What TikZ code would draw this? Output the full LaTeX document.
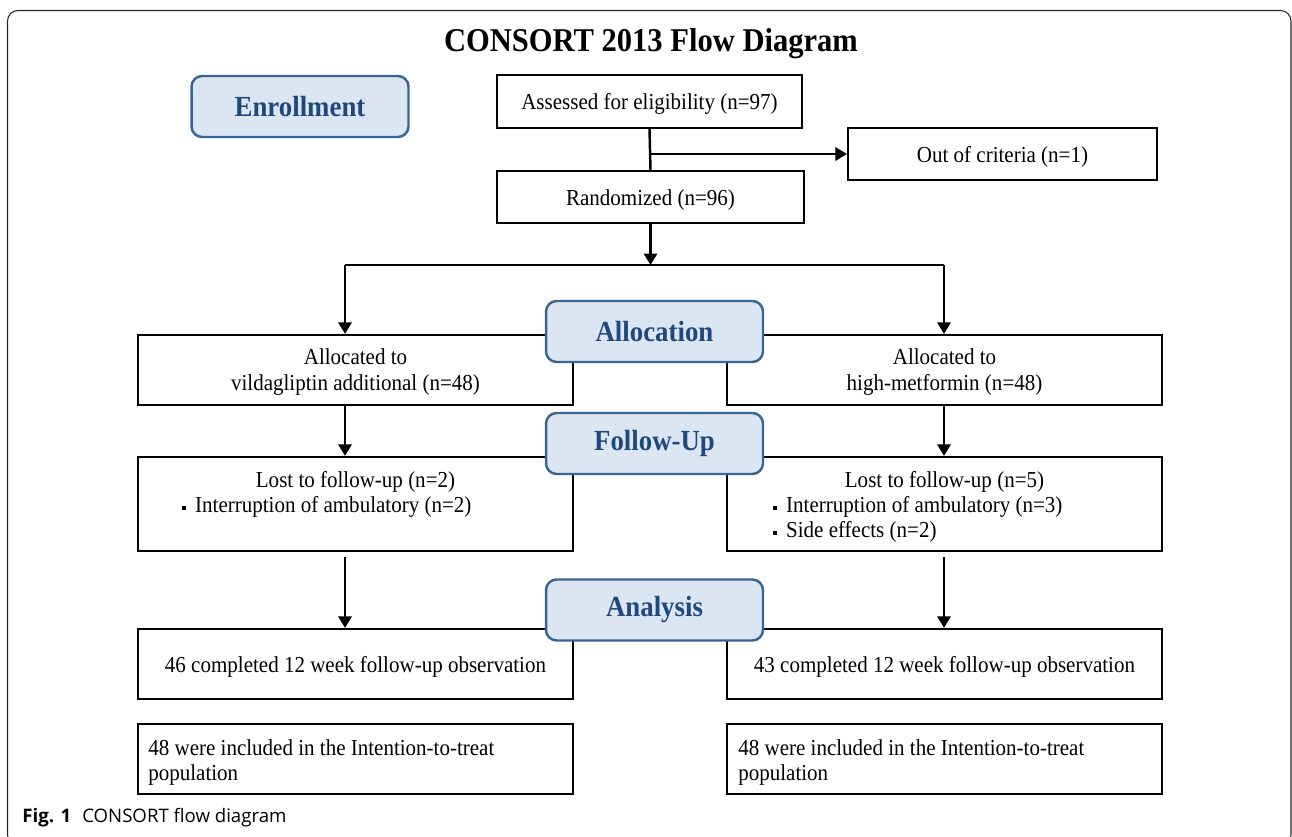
\documentclass[tikz,border=0pt]{standalone}
\usepackage{fontspec}
\setmainfont{Liberation Serif}[FakeStretch=0.92]
\newfontfamily\capfont{Open Sans}
\usetikzlibrary{positioning, arrows.meta}

\definecolor{stagefill}{RGB}{220,230,242}
\definecolor{stageline}{RGB}{58,100,148}
\definecolor{stagetext}{RGB}{31,73,125}

\newcommand{\sqbullet}{\raisebox{0.3ex}{\rule{2.3pt}{2.3pt}}\hspace{5pt}}

\begin{document}
\begin{tikzpicture}[x=0.02cm, y=-0.02cm,
    box/.style={draw, line width=1.3pt, minimum width=8.7cm, minimum height=1.4cm, inner sep=0pt, font=\fontsize{13}{14.7}\selectfont},
    oneline/.style={text height=12.4pt, text depth=2.85pt},
    txt/.style={inner sep=0pt, font=\fontsize{13}{14.7}\selectfont},
    stage/.style={draw=stageline, fill=stagefill, line width=1.4pt, rounded corners=6pt, minimum width=4.34cm, minimum height=1.22cm, text=stagetext, font=\bfseries\fontsize{16.6}{18}\selectfont},
    link/.style={line width=1.4pt},
    arr/.style={line width=1.4pt, -{Triangle[width=7.5pt,length=6.5pt]}}]
    \useasboundingbox (0,0) rectangle (1292,837);

    % Frame and title
    \draw[black!85, line width=0.6pt, rounded corners=6pt] (7.5,10.5) rectangle (1291,845);
    \node[font=\bfseries\fontsize{18.9}{20}\selectfont] (title) at (651,44) {CONSORT 2013 Flow Diagram};

    % Enrollment
    \node[box, oneline, minimum width=6.1cm, minimum height=1.06cm] (assess) at (649.5,101.5) {Assessed for eligibility (n=97)};
    \node[box, oneline, minimum width=6.18cm, minimum height=1.04cm] (out) at (1002.5,154) {Out of criteria (n=1)};
    \node[box, oneline, minimum width=6.14cm, minimum height=1.04cm] (rand) at (650.5,197) {Randomized (n=96)};

    % Allocation
    \node[box] (allocL) at (355.5,370) {};
    \node[box] (allocR) at (944.5,370) {};
    \node[txt, anchor=base] (allocLa) at (355.5,365) {Allocated to};
    \node[txt, anchor=base] (allocLb) at (355.5,391) {vildagliptin additional (n=48)};
    \node[txt, anchor=base] (allocRa) at (944.5,365) {Allocated to};
    \node[txt, anchor=base] (allocRb) at (944.5,391) {high-metformin (n=48)};

    % Follow-up
    \node[box, minimum height=1.88cm] (fuL) at (355.5,504) {};
    \node[box, minimum height=1.88cm] (fuR) at (944.5,504) {};
    \node[txt, anchor=base] (fuLhead) at (355.5,488) {Lost to follow-up (n=2)};
    \node[txt, anchor=base west] (fuLitem) at (182,513) {\sqbullet Interruption of ambulatory (n=2)};
    \node[txt, anchor=base] (fuRhead) at (944.5,488) {Lost to follow-up (n=5)};
    \node[txt, anchor=base west] (fuRitem) at (773,513) {\sqbullet Interruption of ambulatory (n=3)};
    \node[txt, anchor=base west] (fuRside) at (773,538) {\sqbullet Side effects (n=2)};

    % Analysis
    \node[box, oneline] (anaL) at (355.5,664) {46 completed 12 week follow-up observation};
    \node[box, oneline] (anaR) at (944.5,664) {43 completed 12 week follow-up observation};
    \node[box] (ittL) at (355.5,759) {};
    \node[box] (ittR) at (944.5,759) {};
    \foreach \b/\x in {ittL/148, ittR/738} {
      \node[txt, anchor=base west] (\b a) at (\x,755) {48 were included in the Intention-to-treat};
      \node[txt, anchor=base west] (\b b) at (\x,780) {population};
    }

    % Stage labels
    \node[stage] (enrol) at (300,106.5) {Enrollment};
    \node[stage] (alloc) at (654.5,331.5) {Allocation};
    \node[stage] (follow) at (654.5,443.5) {Follow-Up};
    \node[stage] (analysis) at (654.5,610) {Analysis};

    % Connectors
    \coordinate (branch) at (649.5,154);
    \coordinate (split) at (650.5,265);
    \coordinate (lsplit) at (345,265);
    \coordinate (rsplit) at (944,265);
    \draw[link] (assess.south) -- (rand.north);
    \draw[arr] (branch) -- (out.west);
    \draw[arr] (rand.south) -- (split);
    \draw[link] (lsplit) -- (rsplit);
    \foreach \s/\a/\b in {lsplit/allocL/fuL, rsplit/allocR/fuR} {
      \draw[arr] (\s) -- (\s |- \a.north);
      \draw[arr] (\s |- \a.south) -- (\s |- \b.north);
    }
    \draw[arr] (lsplit |- fuL.south) ++(0,5) -- (lsplit |- anaL.north);
    \draw[arr] (rsplit |- fuR.south) ++(0,5) -- (rsplit |- anaR.north);

    % Caption
    \node[anchor=base west, inner sep=0pt, font=\capfont\fontsize{10.6}{12}\selectfont] (caption) at (22,822) {\textbf{Fig. 1}\hspace{0.6em}CONSORT flow diagram};
\end{tikzpicture}
\end{document}
